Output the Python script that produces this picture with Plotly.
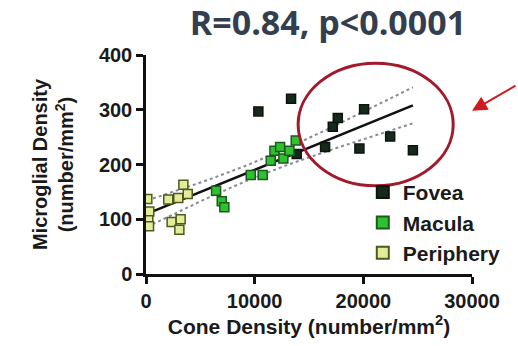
import numpy as np
import plotly.graph_objects as go

# ---------------- data ----------------
fovea_x = [10340, 13350, 13870, 16480, 17190, 17650, 19640, 20070, 22470, 24560]
fovea_y = [297, 320, 219, 232, 269, 285, 229, 301, 251, 226]

macula_x = [6450, 6970, 7210, 9640, 10740, 11480, 11820, 12340, 12640, 13200, 13780]
macula_y = [152, 133, 122, 181, 181, 207, 225, 232, 211, 225, 244]

periphery_x = [120, 300, 210, 280, 2050, 2970, 3440, 3840, 2360, 3190, 3070]
periphery_y = [137, 114, 98, 87, 136, 139, 163, 146, 95, 100, 81]

x_tickvals = [0, 10000, 20000, 30000]
x_ticktext = ["0", "10000", "20000", "30000"]
y_tickvals = [0, 100, 200, 300, 400]
y_ticktext = ["0", "100", "200", "300", "400"]

title_text = "R=0.84, p<0.0001"
series_names = ["Fovea", "Macula", "Periphery"]

# ---------------- regression + 95% confidence band ----------------
all_x = np.array(fovea_x + macula_x + periphery_x, dtype=float)
all_y = np.array(fovea_y + macula_y + periphery_y, dtype=float)
slope, intercept = np.polyfit(all_x, all_y, 1)
n = len(all_x)
resid = all_y - (slope * all_x + intercept)
s = np.sqrt(np.sum(resid ** 2) / (n - 2))
xm = all_x.mean()
sxx = np.sum((all_x - xm) ** 2)
t = 2.02
xs = np.linspace(all_x.min(), all_x.max(), 100)
ys = slope * xs + intercept
half = t * s * np.sqrt(1.0 / n + (xs - xm) ** 2 / sxx)

fig = go.Figure()

fig.add_trace(go.Scatter(x=xs, y=ys + half, mode="lines", showlegend=False,
                         line=dict(color="#8a8a96", width=2, dash="dot"), hoverinfo="skip"))
fig.add_trace(go.Scatter(x=xs, y=ys - half, mode="lines", showlegend=False,
                         line=dict(color="#8a8a96", width=2, dash="dot"), hoverinfo="skip"))
fig.add_trace(go.Scatter(x=xs, y=ys, mode="lines", showlegend=False,
                         line=dict(color="#111111", width=2.5), hoverinfo="skip"))

styles = [
    ("#17281c", "#0b140d"),
    ("#2ec22e", "#1d5a1d"),
    ("#e4ec9c", "#4c5a1c"),
]
for name, xv, yv, (fc, lc), grp in zip(series_names,
                                      [fovea_x, macula_x, periphery_x],
                                      [fovea_y, macula_y, periphery_y],
                                      styles, ["a", "b", "c"]):
    fig.add_trace(go.Scatter(
        x=xv, y=yv, mode="markers", name=name, legendgroup=grp,
        marker=dict(symbol="square", size=9, color=fc, line=dict(color=lc, width=1.5)),
    ))

# red ellipse and arrow
fig.add_shape(type="circle", xref="x", yref="y", x0=14000, x1=28270, y0=161, y1=385,
              line=dict(color="#a3192c", width=3))
fig.add_annotation(x=1.0, y=0.745, xref="paper", yref="paper", text="",
                   showarrow=True, arrowhead=2, arrowsize=1.5, arrowwidth=2,
                   arrowcolor="#d11a1e", ax=45, ay=-26)

fig.update_layout(
    width=518, height=346,
    margin=dict(l=146, r=46, t=55, b=70),
    paper_bgcolor="white", plot_bgcolor="white",
    font=dict(family="Liberation Sans, Arial, sans-serif", color="#1a1a1a", size=19),
    title=dict(text="<b>" + title_text + "</b>", x=328 / 518, xanchor="center",
               y=1 - 23 / 346, yanchor="middle",
               font=dict(family="Open Sans, sans-serif", size=34, color="#333f4f")),
    showlegend=True,
    legend=dict(x=0.665, y=(276 - 173) / 221, xanchor="left", yanchor="top",
                font=dict(size=21, color="#1a1a1a", family="Liberation Sans, Arial, sans-serif", weight="bold"),
                bgcolor="rgba(0,0,0,0)", traceorder="grouped", tracegroupgap=0,
                itemsizing="constant"),
)

fig.update_xaxes(range=[0, 30000], showline=True, linecolor="#111", linewidth=2.5,
                 ticks="outside", ticklen=7, tickwidth=2.5, tickcolor="#111",
                 tickvals=x_tickvals, ticktext=x_ticktext, showgrid=False, zeroline=False,
                 tickfont=dict(size=20, weight="bold"), automargin=True,
                 title=dict(text="<b>Cone Density (number/mm<sup>2</sup>)</b>",
                            font=dict(size=21), standoff=8))
fig.update_yaxes(range=[0, 400], showline=True, linecolor="#111", linewidth=2.5,
                 ticks="outside", ticklen=7, tickwidth=2.5, tickcolor="#111",
                 tickvals=y_tickvals, ticktext=y_ticktext, showgrid=False, zeroline=False,
                 tickfont=dict(size=20, weight="bold"), automargin=True,
                 title=dict(text="<b>Microglial Density<br>(number/mm<sup>2</sup>)</b>",
                            font=dict(size=20), standoff=20))

fig.write_html("out.html")
